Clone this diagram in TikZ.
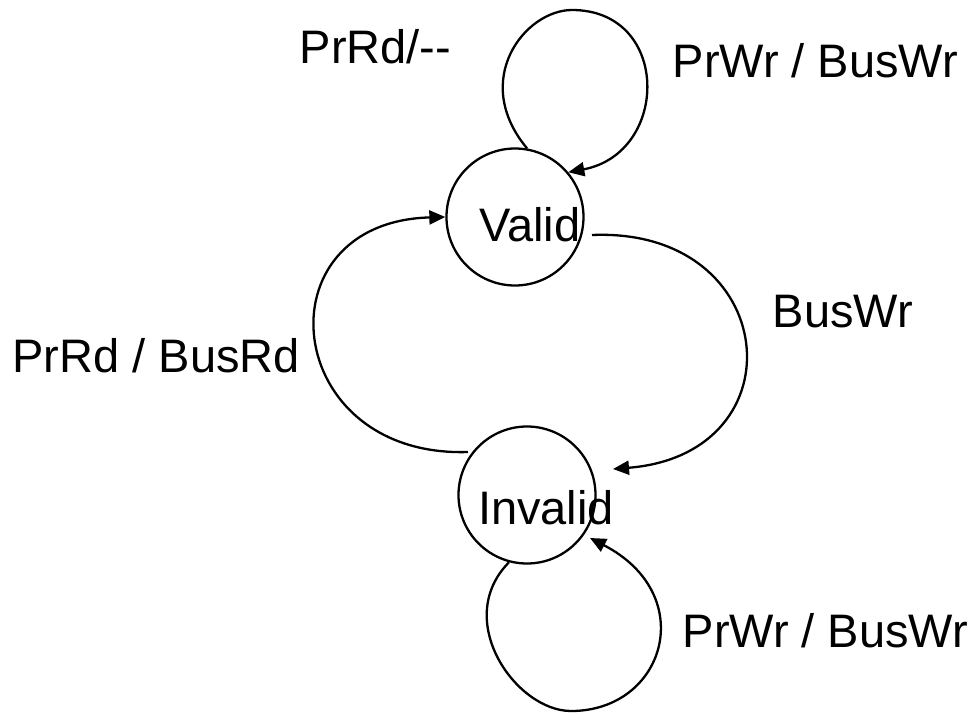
\documentclass[tikz,border=0pt]{standalone}
\usepackage{fontspec}
\setmainfont{Liberation Sans}
\usetikzlibrary{arrows.meta}

\begin{document}
\begin{tikzpicture}[x=1pt, y=-1pt,
    line width=2.3pt,
    state/.style={circle, draw, minimum size=137pt, inner sep=0pt},
    txt/.style={anchor=base west, inner sep=0pt, font=\fontsize{47}{56}\selectfont},
    conn/.style={-{Triangle[length=16pt, width=14pt]}},
  ]
  \useasboundingbox (0,0) rectangle (978,713);

  % states
  \node[state] (V) at (515,217) {};
  \node[state] (I) at (527,495) {};
  \node[txt] (vname) at (478,241) {Valid};
  \node[txt] (iname) at (477,524) {Invalid};

  % transition labels
  \node[txt] (l1) at (298.5,63) {PrRd/-{}-};
  \node[txt] (l2) at (671.5,77) {PrWr / BusWr};
  \node[txt] (l3) at (771.5,327) {BusWr};
  \node[txt] (l4) at (11.5,372) {PrRd / BusRd};
  \node[txt] (l5) at (681.5,647) {PrWr / BusWr};

  % self loop on Valid
  \draw[conn] (V.80) .. controls (470,80) and (525,10) .. (572,10)
                     .. controls (671,10) and (670,153) .. (V.40);

  % Valid -> Invalid
  \draw[conn] ([shift={(77,18)}]V.center)
      .. controls (781,227) and (802,454) .. ([shift={(86,-26)}]I.center);

  % Invalid -> Valid
  \draw[conn] ([shift={(-59,-43)}]I.center)
      .. controls (281,458) and (258,222) .. (V.180);

  % self loop on Invalid
  \draw[conn] (I.255) .. controls (452,620) and (516,711) .. (571,711)
                      .. controls (665,711) and (700,595) .. ([shift={(63,43)}]I.center);
\end{tikzpicture}
\end{document}
